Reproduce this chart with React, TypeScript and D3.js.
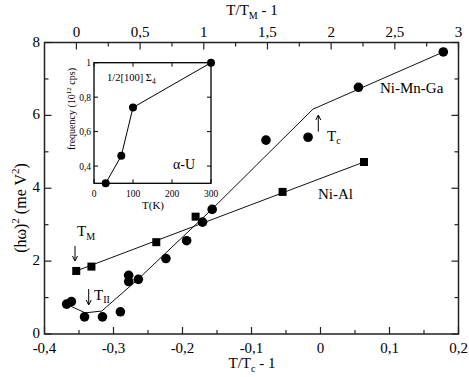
import React from 'react';
import * as d3 from 'd3';

// Ni-Mn-Ga (circles), x = T/Tc - 1, y = (hw)^2
const niMnGaX = [-0.368, -0.361, -0.342, -0.316, -0.290, -0.278, -0.278, -0.264, -0.224, -0.194, -0.171, -0.157, -0.079, -0.018, 0.055, 0.178];
const niMnGaY = [0.82, 0.89, 0.47, 0.47, 0.61, 1.61, 1.44, 1.50, 2.07, 2.56, 3.07, 3.42, 5.32, 5.40, 6.77, 7.74];
const niMnGaFitX = [-0.366, -0.341, -0.317, -0.264, -0.157, -0.011, 0.178];
const niMnGaFitY = [0.80, 0.58, 0.63, 1.51, 3.43, 6.17, 7.74];

// Ni-Al (squares)
const niAlX = [-0.354, -0.332, -0.238, -0.181, -0.055, 0.063];
const niAlY = [1.73, 1.85, 2.52, 3.22, 3.90, 4.72];
const niAlFitX = [-0.354, 0.063];
const niAlFitY = [1.73, 4.72];

// inset: alpha-U
const alphaUT = [30, 70, 100, 300];
const alphaUF = [0.30, 0.46, 0.74, 1.0];

const bottomTicks = [-0.4, -0.3, -0.2, -0.1, 0, 0.1, 0.2];
const topTicks = [0, 0.5, 1, 1.5, 2, 2.5, 3];
const leftTicks = [0, 2, 4, 6, 8];
const insetXTicks = [0, 100, 200, 300];
const insetYTicks = [0.4, 0.6, 0.8, 1];

const loc = d3.formatLocale({ decimal: ',', thousands: '.', grouping: [3], currency: ['', ''], minus: '-' });
const fmt = loc.format('');

const FONT = "'Liberation Serif', 'Times New Roman', 'DejaVu Serif', serif";

export default function App() {
  const L = 44.5, R = 458.5, T = 42.5, B = 334;
  const x = d3.scaleLinear().domain([-0.4, 0.2]).range([L, R]);
  const xTop = d3.scaleLinear().domain([-0.2506, 3]).range([L, R]);
  const y = d3.scaleLinear().domain([0, 8]).range([B, T]);

  const iL = 94, iR = 211, iT = 62.7, iB = 183.3;
  const ix = d3.scaleLinear().domain([0, 300]).range([iL, iR]);
  const iy = d3.scaleLinear().domain([0.3, 1]).range([iB, iT]);

  const line = d3.line<[number, number]>().x(d => x(d[0])).y(d => y(d[1]));
  const iline = d3.line<[number, number]>().x(d => ix(d[0])).y(d => iy(d[1]));

  const mgaFit = niMnGaFitX.map((v, i) => [v, niMnGaFitY[i]] as [number, number]);
  const alFit = niAlFitX.map((v, i) => [v, niAlFitY[i]] as [number, number]);
  const uPts = alphaUT.map((v, i) => [v, alphaUF[i]] as [number, number]);

  const major = 7, minor = 4;
  const bMinor = d3.range(-0.35, 0.2, 0.1);
  const tMinor = d3.range(0.25, 3, 0.5);
  const lMinor = [1, 3, 5, 7];

  const ax = '#222';

  return (
    <svg width={469} height={377} style={{ position: 'absolute', left: 0, top: 0, background: '#fff', fontFamily: FONT }}>
      <rect x={0} y={0} width={469} height={377} fill="#fff" />
      {/* frame */}
      <rect x={L} y={T} width={R - L} height={B - T} fill="none" stroke={ax} strokeWidth={1.5} />

      {/* bottom ticks */}
      {bottomTicks.map(t => (
        <g key={'b' + t}>
          <line x1={x(t)} x2={x(t)} y1={B} y2={B - major} stroke={ax} strokeWidth={1.2} />
          <text x={x(t)} y={353} fontSize={15} textAnchor="middle">{fmt(+t.toFixed(2))}</text>
        </g>
      ))}
      {bMinor.map(t => (
        <line key={'bm' + t} x1={x(t)} x2={x(t)} y1={B} y2={B - minor} stroke={ax} strokeWidth={1.2} />
      ))}

      {/* top ticks */}
      {topTicks.map(t => (
        <g key={'t' + t}>
          <line x1={xTop(t)} x2={xTop(t)} y1={T} y2={T + major} stroke={ax} strokeWidth={1.2} />
          <text x={xTop(t)} y={37} fontSize={15} textAnchor="middle">{fmt(t)}</text>
        </g>
      ))}
      {tMinor.map(t => (
        <line key={'tm' + t} x1={xTop(t)} x2={xTop(t)} y1={T} y2={T + minor} stroke={ax} strokeWidth={1.2} />
      ))}

      {/* left / right ticks */}
      {leftTicks.map(t => (
        <g key={'l' + t}>
          <line x1={L} x2={L + major} y1={y(t)} y2={y(t)} stroke={ax} strokeWidth={1.2} />
          <line x1={R} x2={R - major} y1={y(t)} y2={y(t)} stroke={ax} strokeWidth={1.2} />
          <text x={40} y={y(t) + 4} fontSize={15} textAnchor="end">{fmt(t)}</text>
        </g>
      ))}
      {lMinor.map(t => (
        <g key={'lm' + t}>
          <line x1={L} x2={L + minor} y1={y(t)} y2={y(t)} stroke={ax} strokeWidth={1.2} />
          <line x1={R} x2={R - minor} y1={y(t)} y2={y(t)} stroke={ax} strokeWidth={1.2} />
        </g>
      ))}

      {/* axis titles */}
      <text x={252} y={15} fontSize={15} textAnchor="middle">
        T/T<tspan fontSize={10} dy={4}>M</tspan><tspan dy={-4}> - 1</tspan>
      </text>
      <text x={252} y={368} fontSize={15} textAnchor="middle">
        T/T<tspan fontSize={10} dy={4}>c</tspan><tspan dy={-4}> - 1</tspan>
      </text>
      <text transform="translate(26,208) rotate(-90)" fontSize={16} textAnchor="middle">
        (hω)<tspan fontSize={11} dy={-7}>2</tspan><tspan dy={7}> (me V</tspan><tspan fontSize={11} dy={-7}>2</tspan><tspan dy={7}>)</tspan>
      </text>

      {/* fit lines */}
      <path d={line(mgaFit) || ''} fill="none" stroke="#111" strokeWidth={1} />
      <path d={line(alFit) || ''} fill="none" stroke="#111" strokeWidth={1} />

      {/* markers */}
      {niMnGaX.map((v, i) => (
        <circle key={'c' + i} cx={x(v)} cy={y(niMnGaY[i])} r={4.8} fill="#000" />
      ))}
      {niAlX.map((v, i) => (
        <rect key={'s' + i} x={x(v) - 4} y={y(niAlY[i]) - 4} width={8} height={8} fill="#000" />
      ))}

      {/* labels */}
      <text x={380} y={93} fontSize={15}>Ni-Mn-Ga</text>
      <text x={318} y={199} fontSize={15}>Ni-Al</text>

      {/* T_c arrow */}
      <line x1={318.3} x2={318.3} y1={131.7} y2={116} stroke="#000" strokeWidth={1} />
      <path d="M315.8,120 L318.3,115 L320.8,120" fill="none" stroke="#000" strokeWidth={1} />
      <text x={327} y={141} fontSize={15}>T<tspan fontSize={10} dy={3}>c</tspan></text>

      {/* T_M arrow */}
      <text x={77} y={236} fontSize={15}>T<tspan fontSize={10} dy={4}>M</tspan></text>
      <line x1={75} x2={75} y1={246} y2={260} stroke="#000" strokeWidth={1} />
      <path d="M72.5,256 L75,261 L77.5,256" fill="none" stroke="#000" strokeWidth={1} />

      {/* T_II arrow */}
      <text x={94} y={300} fontSize={15}>T<tspan fontSize={10} dy={3}>II</tspan></text>
      <line x1={88.7} x2={88.7} y1={289} y2={304} stroke="#000" strokeWidth={1} />
      <path d="M86.2,300 L88.7,305 L91.2,300" fill="none" stroke="#000" strokeWidth={1} />

      {/* inset */}
      <rect x={iL} y={iT} width={iR - iL} height={iB - iT} fill="#fff" stroke="#000" strokeWidth={1.3} />
      {insetXTicks.map(t => (
        <g key={'ix' + t}>
          <line x1={ix(t)} x2={ix(t)} y1={iB} y2={iB - 4} stroke="#000" strokeWidth={1} />
          <line x1={ix(t)} x2={ix(t)} y1={iT} y2={iT + 4} stroke="#000" strokeWidth={1} />
          <text x={ix(t)} y={196.5} fontSize={9.5} textAnchor="middle">{fmt(t)}</text>
        </g>
      ))}
      {insetYTicks.map(t => (
        <g key={'iy' + t}>
          <line x1={iL} x2={iL + 4} y1={iy(t)} y2={iy(t)} stroke="#000" strokeWidth={1} />
          <line x1={iR} x2={iR - 4} y1={iy(t)} y2={iy(t)} stroke="#000" strokeWidth={1} />
          <text x={91} y={iy(t) + 3.5} fontSize={9.5} textAnchor="end">{fmt(t)}</text>
        </g>
      ))}
      <text x={153} y={209} fontSize={11} textAnchor="middle">T(K)</text>
      <text transform="translate(75,109) rotate(-90)" fontSize={10} textAnchor="middle">
        frequency (10<tspan fontSize={7} dy={-4}>12</tspan><tspan dy={4}> cps)</tspan>
      </text>
      <text x={107} y={81} fontSize={10.5}>1/2[100] Σ<tspan fontSize={7.5} dy={3}>4</tspan></text>
      <text x={173} y={169} fontSize={14}>α-U</text>
      <path d={iline(uPts) || ''} fill="none" stroke="#000" strokeWidth={1} />
      {alphaUT.map((v, i) => (
        <circle key={'u' + i} cx={ix(v)} cy={iy(alphaUF[i])} r={4} fill="#000" />
      ))}
    </svg>
  );
}
